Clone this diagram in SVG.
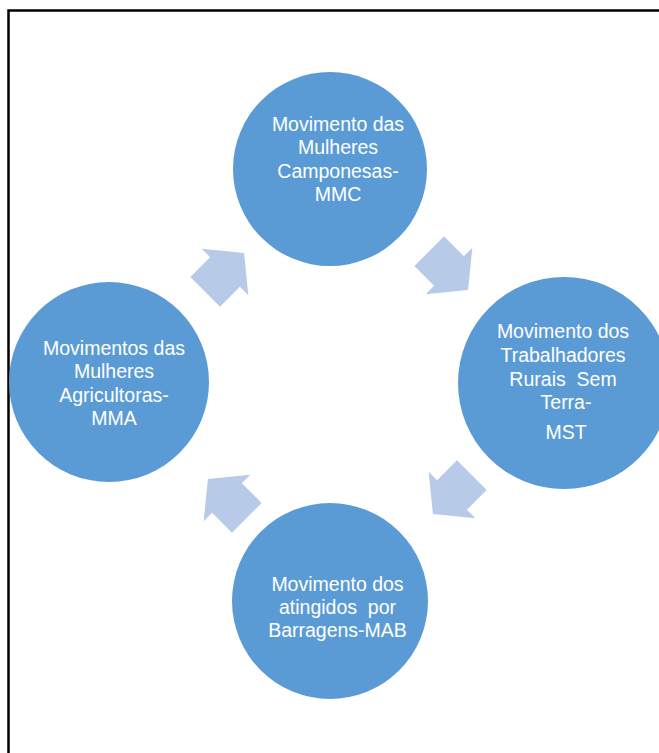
<svg xmlns="http://www.w3.org/2000/svg" width="659" height="753" viewBox="0 0 659 753">
<style>
.node circle{fill:#5B9BD5;}
.node text{fill:#FFFFFF;font-family:"Liberation Sans",Arial,sans-serif;font-size:19.5px;text-anchor:middle;white-space:pre;}
.arrow{fill:#B7CBE8;}
</style>
<defs>
<polygon id="blockArrow" points="-28,-21 0,-21 0,-33 27,0 0,33 0,21 -28,21"/>
</defs>
<rect x="0" y="0" width="659" height="753" fill="#FFFFFF"/>
<path d="M8.5,760 L8.5,10.5 L670,10.5" fill="none" stroke="#000000" stroke-width="2.5"/>
<g id="connectors">
<use href="#blockArrow" class="arrow" transform="translate(449,271) rotate(45)"/>
<use href="#blockArrow" class="arrow" transform="translate(452,495) rotate(135)"/>
<use href="#blockArrow" class="arrow" transform="translate(227,498) rotate(-135)"/>
<use href="#blockArrow" class="arrow" transform="translate(225,272) rotate(-45)"/>
</g>
<g id="node-mmc" class="node">
<circle cx="330" cy="169" r="97"/>
<text x="338" y="131">Movimento das</text>
<text x="338" y="154.3">Mulheres</text>
<text x="338" y="177.6">Camponesas-</text>
<text x="338" y="201">MMC</text>
</g>
<g id="node-mst" class="node">
<circle cx="564" cy="383" r="106"/>
<text x="563" y="338">Movimento dos</text>
<text x="563" y="362">Trabalhadores</text>
<text x="563" y="385.7">Rurais  Sem</text>
<text x="566" y="409">Terra-</text>
<text x="566" y="439">MST</text>
</g>
<g id="node-mab" class="node">
<circle cx="330" cy="601" r="98"/>
<text x="337.5" y="590.7">Movimento dos</text>
<text x="337.5" y="613.5">atingidos  por</text>
<text x="337.5" y="636.7">Barragens-MAB</text>
</g>
<g id="node-mma" class="node">
<circle cx="109" cy="382" r="100"/>
<text x="114" y="355">Movimentos das</text>
<text x="114" y="378.3">Mulheres</text>
<text x="114" y="401.6">Agricultoras-</text>
<text x="114" y="425">MMA</text>
</g>
</svg>
